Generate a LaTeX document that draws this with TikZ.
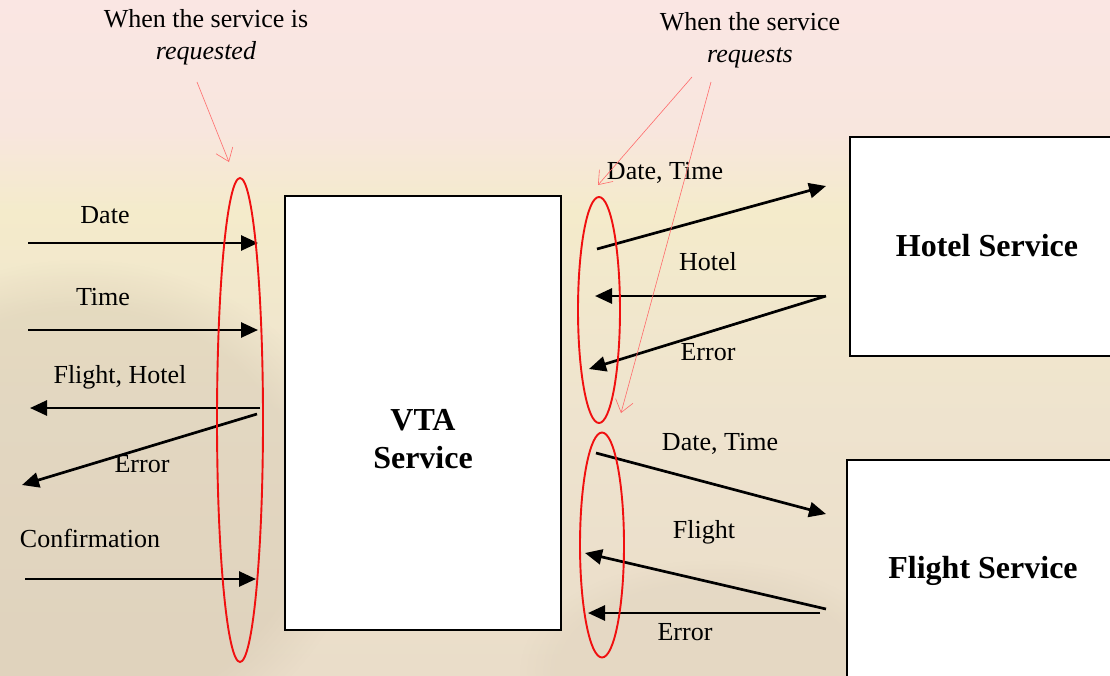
\documentclass[tikz,border=0pt]{standalone}
\usepackage{fontspec}
\setmainfont{Liberation Serif}
\usetikzlibrary{arrows.meta,shapes.geometric,fadings}

\definecolor{bgtop}{HTML}{FAE6E3}
\definecolor{bgpink}{HTML}{F8E6DE}
\definecolor{bgyel}{HTML}{F4EBCB}
\definecolor{bgmid}{HTML}{EEE3CE}
\definecolor{bgbot}{HTML}{EADDC9}
\definecolor{bgshade}{HTML}{C9BCA4}
\definecolor{ringred}{HTML}{F01010}
\definecolor{noteRed}{HTML}{FF6A6A}

\tikzset{
  label/.style={font=\fontsize{26}{31}\selectfont, anchor=base, inner sep=0pt},
  note/.style={font=\fontsize{26}{32}\selectfont, align=center, anchor=base, inner sep=0pt},
  title/.style={font=\bfseries\fontsize{32}{38}\selectfont, align=center, anchor=base, inner sep=0pt},
  svcbox/.style={draw=black, fill=white, line width=2.2pt},
  flow/.style={line width=2.7pt, -{Triangle[length=17pt,width=15pt]}},
  ring/.style={draw=ringred, line width=1.9pt, ellipse, inner sep=0pt},
  pointer/.style={draw=noteRed, line width=0.6pt, -{Straight Barb[length=12pt,width=18pt,line width=0.6pt]}}
}

\begin{document}
\begin{tikzpicture}[x=1pt,y=-1pt]
\useasboundingbox (0,0) rectangle (1110,675);
\begin{scope}
\clip (0,0) rectangle (1110,675);

% faded landscape backdrop
\shade[top color=bgtop, bottom color=bgpink] (0,0) rectangle (1110,131);
\shade[top color=bgpink, bottom color=bgyel] (0,130) rectangle (1110,211);
\shade[top color=bgyel, bottom color=bgmid] (0,210) rectangle (1110,421);
\shade[top color=bgmid, bottom color=bgbot] (0,420) rectangle (1110,675);
\fill[bgshade, opacity=0.3, path fading=circle with fuzzy edge 20 percent]
  (-200,260) rectangle (360,760);
\fill[bgshade, opacity=0.15, path fading=circle with fuzzy edge 20 percent]
  (520,560) rectangle (900,780);

% services
\node[svcbox, minimum width=276, minimum height=434] (vta) at (423,413) {};
\node[title] (vtalbl) at (423,468) {VTA\\Service};
\node[svcbox, anchor=north west, minimum width=300, minimum height=219] (hotel) at (849,136) {};
\node[title] (hotellbl) at (987,256) {Hotel Service};
\node[svcbox, anchor=north west, minimum width=300, minimum height=260] (flight) at (846,459) {};
\node[title] (flightlbl) at (983,578) {Flight Service};

% incoming / outgoing messages of the VTA service
\coordinate (dateS) at (28,243);   \coordinate (dateE) at (258,243);
\coordinate (timeS) at (28,330);   \coordinate (timeE) at (258,330);
\coordinate (fhS)   at (260,408);  \coordinate (fhE)   at (30,408);
\coordinate (errS)  at (257,414);  \coordinate (errE)  at (22,485);
\coordinate (confS) at (25,579);   \coordinate (confE) at (256,579);
\draw[flow] (dateS) -- (dateE);
\draw[flow] (timeS) -- (timeE);
\draw[flow] (fhS) -- (fhE);
\draw[flow] (errS) -- (errE);
\draw[flow] (confS) -- (confE);
\node[label] (ldate) at (105,223) {Date};
\node[label] (ltime) at (103,305) {Time};
\node[label] (lfh)   at (120,383) {Flight, Hotel};
\node[label] (lerr)  at (142,472) {Error};
\node[label] (lconf) at (90,547)  {Confirmation};

% exchange with the hotel service
\coordinate (hdS) at (597,249);  \coordinate (hdE) at (826,186);
\coordinate (hhS) at (826,296);  \coordinate (hhE) at (595,296);
\coordinate (heE) at (589,369);
\draw[flow] (hdS) -- (hdE);
\draw[flow] (hhS) -- (hhE);
\draw[flow] (hhS) -- (heE);
\node[label] (lhd) at (665,179) {Date, Time};
\node[label] (lhh) at (708,270) {Hotel};
\node[label] (lhe) at (708,360) {Error};

% exchange with the flight service
\coordinate (fdS) at (596,453);  \coordinate (fdE) at (826,514);
\coordinate (ffS) at (826,609);  \coordinate (ffE) at (585,553);
\coordinate (feS) at (820,613);  \coordinate (feE) at (588,613);
\draw[flow] (fdS) -- (fdE);
\draw[flow] (ffS) -- (ffE);
\draw[flow] (feS) -- (feE);
\node[label] (lfd) at (720,450) {Date, Time};
\node[label] (lff) at (704,538) {Flight};
\node[label] (lfe) at (685,640) {Error};

% interface rings
\node[ring, minimum width=46, minimum height=484] (ringL) at (240,420) {};
\node[ring, minimum width=42, minimum height=226] (ringH) at (599,310) {};
\node[ring, minimum width=44, minimum height=225] (ringF) at (602,545) {};

% annotations
\node[note] (noteL) at (206,59) {When the service is\\\textit{requested}};
\node[note] (noteR) at (750,62) {When the service\\\textit{requests}};
\coordinate (pL)  at (197,82);  \coordinate (pLE)  at (229,162);
\coordinate (pR1) at (692,77);  \coordinate (pR1E) at (598,185);
\coordinate (pR2) at (711,82);  \coordinate (pR2E) at (621,413);
\draw[pointer] (pL) -- (pLE);
\draw[pointer] (pR1) -- (pR1E);
\draw[pointer] (pR2) -- (pR2E);
\end{scope}
\end{tikzpicture}
\end{document}
